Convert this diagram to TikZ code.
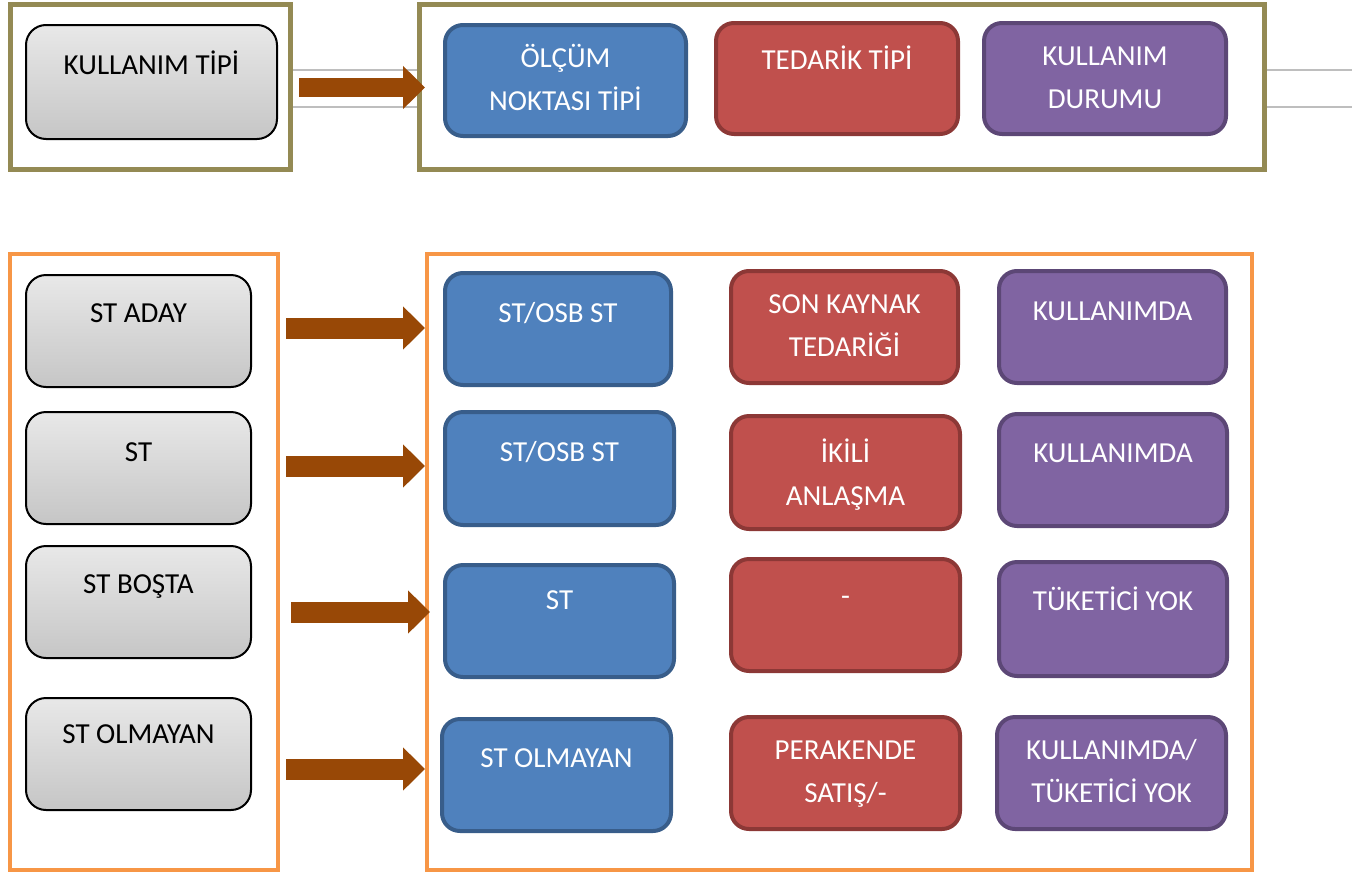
\documentclass[tikz,border=0pt]{standalone}
\usepackage{fontspec}
\setmainfont{Carlito}
\usetikzlibrary{arrows.meta}
\definecolor{olivefr}{RGB}{148,138,84}
\definecolor{orangefr}{RGB}{247,150,70}
\definecolor{bluefill}{HTML}{4F81BD}
\definecolor{blueedge}{HTML}{385D8A}
\definecolor{redfill}{HTML}{C0504D}
\definecolor{rededge}{HTML}{8C3836}
\definecolor{purplefill}{HTML}{8064A2}
\definecolor{purpleedge}{HTML}{5C4776}
\definecolor{arrowc}{RGB}{152,72,6}
\definecolor{thinline}{RGB}{190,190,190}
\begin{document}
\begin{tikzpicture}[x=1pt,y=-1pt,
  oliveframe/.style={draw=olivefr,line width=5pt},
  orangeframe/.style={draw=orangefr,line width=4pt},
  graybox/.style={draw=black,line width=2pt,rounded corners=20pt,top color=gray!18,bottom color=gray!45,inner sep=0pt},
  colbox/.style={line width=4pt,rounded corners=18pt,inner sep=0pt},
  bluebox/.style={colbox,draw=blueedge,fill=bluefill},
  redbox/.style={colbox,draw=rededge,fill=redfill},
  purplebox/.style={colbox,draw=purpleedge,fill=purplefill},
  lbl/.style={anchor=north,inner sep=0pt,align=center,font=\fontsize{29}{43}\selectfont,text=white},
  dlbl/.style={lbl,text=black},
  bigarrow/.style={draw=arrowc,line width=21pt,line cap=butt,-{Triangle[length=22pt,width=42pt]}},
  thin/.style={draw=thinline,line width=1.3pt}]
\useasboundingbox (0,0) rectangle (1362,873);

% thin background lines
\coordinate (l1a) at (293,70);  \coordinate (l1b) at (420,70);
\coordinate (l2a) at (293,107); \coordinate (l2b) at (420,107);
\coordinate (l3a) at (1266,70); \coordinate (l3b) at (1352,70);
\coordinate (l4a) at (1266,107); \coordinate (l4b) at (1352,107);
\draw[thin] (l1a) -- (l1b);
\draw[thin] (l2a) -- (l2b);
\draw[thin] (l3a) -- (l3b);
\draw[thin] (l4a) -- (l4b);

% frames
\draw[oliveframe] (10,4) rectangle (290,169);
\draw[oliveframe] (419,4) rectangle (1264,169);
\draw[orangeframe] (10,254) rectangle (278,870);
\draw[orangeframe] (427,254) rectangle (1252,870);

% top row
\node[graybox,minimum width=251pt,minimum height=114pt] (g0) at (151.5,82) {};
\node[dlbl] at (151.5,44) {\strut KULLANIM TİPİ};
\node[bluebox,minimum width=241pt,minimum height=111pt] (t1) at (565.5,80.5) {};
\node[lbl] at (565.5,37) {\strut ÖLÇÜM\\\strut NOKTASI TİPİ};
\node[redbox,minimum width=242pt,minimum height=111pt] (t2) at (837,78.5) {};
\node[lbl] at (837,39) {\strut TEDARİK TİPİ};
\node[purplebox,minimum width=242pt,minimum height=111pt] (t3) at (1105,78.5) {};
\node[lbl] at (1105,35) {\strut KULLANIM\\\strut DURUMU};

% top arrow
\coordinate (a0s) at (299,87.5);
\coordinate (a0e) at (425,87.5);
\draw[bigarrow,line width=19pt] (a0s) -- (a0e);

% left gray boxes
\node[graybox,minimum width=225pt,minimum height=112pt] (g1) at (138.5,331) {};
\node[dlbl] at (138.5,292) {\strut ST ADAY};
\node[graybox,minimum width=225pt,minimum height=112pt] (g2) at (138.5,468) {};
\node[dlbl] at (138.5,431) {\strut ST};
\node[graybox,minimum width=225pt,minimum height=112pt] (g3) at (138.5,602) {};
\node[dlbl] at (138.5,563) {\strut ST BOŞTA};
\node[graybox,minimum width=225pt,minimum height=112pt] (g4) at (138.5,754) {};
\node[dlbl] at (138.5,713) {\strut ST OLMAYAN};

% arrows
\coordinate (a1s) at (286,328); \coordinate (a1e) at (425,328);
\coordinate (a2s) at (286,466); \coordinate (a2e) at (425,466);
\coordinate (a3s) at (291,612); \coordinate (a3e) at (430,612);
\coordinate (a4s) at (286,769); \coordinate (a4e) at (425,769);
\draw[bigarrow] (a1s) -- (a1e);
\draw[bigarrow] (a2s) -- (a2e);
\draw[bigarrow] (a3s) -- (a3e);
\draw[bigarrow] (a4s) -- (a4e);

% blue column
\node[bluebox,minimum width=226pt,minimum height=112pt] (b1) at (558,329) {};
\node[lbl] at (558,292) {\strut ST/OSB ST};
\node[bluebox,minimum width=229pt,minimum height=113pt] (b2) at (559.5,468.5) {};
\node[lbl] at (559.5,431) {\strut ST/OSB ST};
\node[bluebox,minimum width=229pt,minimum height=112pt] (b3) at (559.5,621) {};
\node[lbl] at (559.5,579) {\strut ST};
\node[bluebox,minimum width=229pt,minimum height=112pt] (b4) at (556.5,775) {};
\node[lbl] at (556.5,737) {\strut ST OLMAYAN};

% red column
\node[redbox,minimum width=227pt,minimum height=112pt] (r1) at (844.5,327) {};
\node[lbl] at (844.5,283) {\strut SON KAYNAK\\\strut TEDARİĞİ};
\node[redbox,minimum width=229pt,minimum height=113pt] (r2) at (845.5,472.5) {};
\node[lbl] at (845.5,432) {\strut İKİLİ\\\strut ANLAŞMA};
\node[redbox,minimum width=229pt,minimum height=112pt] (r3) at (845.5,615) {};
\node[lbl] at (845.5,575) {\strut -};
\node[redbox,minimum width=229pt,minimum height=112pt] (r4) at (845.5,773) {};
\node[lbl] at (845.5,729) {\strut PERAKENDE\\\strut SATIŞ/-};

% purple column
\node[purplebox,minimum width=227pt,minimum height=112pt] (p1) at (1112.5,327) {};
\node[lbl] at (1112.5,290) {\strut KULLANIMDA};
\node[purplebox,minimum width=228pt,minimum height=112pt] (p2) at (1113,470) {};
\node[lbl] at (1113,432) {\strut KULLANIMDA};
\node[purplebox,minimum width=228pt,minimum height=114pt] (p3) at (1113,619) {};
\node[lbl] at (1113,580) {\strut TÜKETİCİ YOK};
\node[purplebox,minimum width=229pt,minimum height=112pt] (p4) at (1111.5,773) {};
\node[lbl] at (1111.5,729) {\strut KULLANIMDA/\\\strut TÜKETİCİ YOK};
\end{tikzpicture}
\end{document}
